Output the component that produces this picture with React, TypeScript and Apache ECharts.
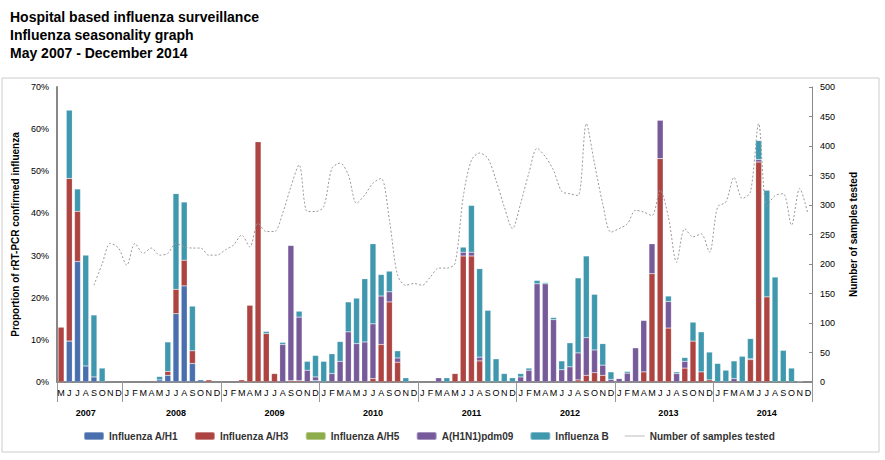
import { useRef, useEffect } from "react";
import * as echarts from "echarts";

const YEARS = [2007, 2008, 2009, 2010, 2011, 2012, 2013, 2014];
const LETTERS = ["J", "F", "M", "A", "M", "J", "J", "A", "S", "O", "N", "D"];

// May 2007 - Dec 2014, one entry per month (92)
const monthLabels: string[] = [];
const monthYear: number[] = [];
const monthIdx: number[] = [];
for (const y of YEARS) {
  for (let m = y === 2007 ? 4 : 0; m < 12; m++) {
    monthLabels.push(LETTERS[m]!);
    monthYear.push(y);
    monthIdx.push(m);
  }
}

const H1 = [
  0, 9.7, 28.6, 3.8, 1.2, 0, 0, 0,
  0, 0, 0, 0, 0.5, 1.6, 16.2, 22.8, 4.4, 0.5, 0, 0,
  0, 0, 0, 0, 0, 0, 0, 0, 0, 0, 0, 0.3,
  0, 0, 0, 0, 0, 0, 0, 0, 0, 0, 0, 0,
  0, 0, 0, 0, 0, 0, 0, 0, 0, 0, 0, 0,
  0, 0, 0, 0, 0, 0, 0, 0, 0, 0, 0, 0,
  0, 0, 0, 0, 0, 0, 0, 0, 0, 0, 0, 0,
  0, 0, 0, 0, 0, 0, 0, 0, 0, 0, 0, 0,
];
const H3 = [
  13, 38.6, 11.9, 0, 0, 0, 0, 0,
  0, 0, 0, 0, 0, 0.9, 5.8, 6.1, 3.0, 0, 0.5, 0,
  0, 0, 0.5, 18.2, 57, 11.5, 2, 0, 0.3, 0.3, 0, 0,
  0, 0, 0, 0, 0, 0, 0.8, 8.9, 19, 4.7, 0, 0,
  0, 0, 0, 0, 2, 29.9, 29.9, 5, 0, 0, 0, 0,
  0, 0, 0, 0, 0, 0, 0, 0.5, 1.6, 2.2, 1.6, 0,
  0, 0, 0, 2.4, 25.7, 53, 12.8, 0, 3.3, 9.7, 2.4, 0.5,
  0, 0, 0, 0, 5.3, 52.2, 20.2, 0, 0, 0, 0, 0,
];
const H5 = new Array(92).fill(0);
const PDM = [
  0, 0, 0, 0, 0, 0, 0, 0,
  0, 0, 0, 0, 0, 0, 0, 0, 0, 0, 0, 0,
  0, 0, 0, 0, 0, 0, 0, 8.9, 32.1, 15.1, 2.8, 0.9,
  0, 2, 4.9, 11.9, 9.1, 9.5, 13.0, 11.5, 2.4, 1.0, 0, 0,
  0, 0, 1, 0, 0, 0.9, 0.9, 0.9, 0, 0, 0, 0,
  1.2, 2.8, 23.3, 23.3, 14.8, 2.9, 3.6, 6.4, 8.9, 5.4, 2.4, 0.6,
  0.8, 2.1, 8.1, 12.2, 7.1, 9.1, 6.3, 2, 1.6, 0, 0, 0,
  0, 0, 0.8, 0, 0.2, 0.6, 0, 0, 0, 0, 0, 0,
];
const FLU_B = [
  0, 16.2, 5.3, 26.3, 14.7, 3.3, 0, 0,
  0, 0, 0, 0, 0.8, 7.0, 22.7, 13.8, 10.6, 0, 0, 0,
  0, 0, 0, 0, 0, 0.5, 0, 0.5, 0, 1.4, 2.1, 5.1,
  4.9, 4.7, 4.7, 7.1, 10.8, 15, 19, 5.1, 4.9, 1.7, 1, 0,
  0, 0, 0, 1, 0, 1.2, 11.1, 21, 17, 5.5, 2, 1,
  0.8, 0.5, 0.8, 0.3, 0.5, 2.1, 5.7, 17.8, 19.4, 13.2, 5.1, 1.8,
  0, 0.4, 0, 0, 0, 0, 1.3, 0.4, 0.9, 4.5, 9.5, 6.6,
  4.4, 2.8, 4.2, 6.1, 4.8, 4.5, 25.3, 24.9, 7.5, 3.3, 0.2, 0,
];
const SAMPLES: (number | null)[] = [
  null, null, null, null, 164, 200, 235, 227,
  198, 235, 218, 227, 215, 218, 235, 229, 227, 227, 215, 215,
  224, 232, 249, 229, 269, 255, 255, 286, 331, 368, 289, 289,
  297, 362, 371, 351, 303, 317, 337, 345, 275, 181, 164, 167,
  164, 178, 193, 193, 201, 314, 376, 388, 379, 342, 297, 260,
  303, 354, 396, 382, 359, 323, 319, 316, 438, 370, 302, 254,
  260, 268, 291, 288, 282, 325, 280, 203, 260, 246, 251, 220,
  297, 305, 347, 311, 322, 438, 299, 316, 319, 266, 328, 285,
];

const COLORS = ["#4a6fae", "#ad4441", "#8cad4a", "#765a9a", "#3f98ae"];

export default function App() {
  const ref = useRef<HTMLDivElement>(null);

  useEffect(() => {
    document.body.style.margin = "0";
    if (!ref.current) return;
    const chart = echarts.init(ref.current, null, { renderer: "svg" });

    const bar = (name: string, data: number[], i: number) => ({
      name,
      type: "bar" as const,
      stack: "flu",
      data: data.map((v) => (v > 0 ? v : null)),
      barWidth: 6,
      itemStyle: { color: COLORS[i], borderColor: "rgba(255,255,255,0.35)", borderWidth: 0.5 },
    });

    const yearMid = (i: number) => {
      const y = monthYear[i]!;
      return y === 2007 ? monthIdx[i] === 7 : monthIdx[i] === 6;
    };

    chart.setOption({
      animation: false,
      textStyle: { fontFamily: "Arial, 'Liberation Sans', sans-serif" },
      title: {
        text: "Hospital based influenza surveillance\nInfluenza seasonality graph\nMay 2007 - December 2014",
        left: 5,
        top: 3,
        textStyle: { fontSize: 14, fontWeight: "bold", color: "#000", lineHeight: 18 },
      },
      graphic: [
        { type: "rect", shape: { x: 2, y: 78, width: 877, height: 374 }, style: { fill: "none", stroke: "#ccc", lineWidth: 1 } },
      ],
      grid: { left: 57, right: 73, top: 87, bottom: 78 },
      legend: {
        bottom: 14,
        left: 78,
        itemGap: 16,
        itemWidth: 20,
        itemHeight: 8,
        textStyle: { fontSize: 10, fontWeight: "bold", color: "#333" },
        data: [
          { name: "Influenza A/H1" },
          { name: "Influenza A/H3" },
          { name: "Influenza A/H5" },
          { name: "A(H1N1)pdm09" },
          { name: "Influenza B" },
          { name: "Number of samples tested", icon: "path://M0,4 L30,4 L30,5 L0,5 Z" },
        ],
      },
      xAxis: [
        {
          type: "category",
          data: monthLabels,
          axisLine: { lineStyle: { color: "#888", width: 2 } },
          axisTick: { show: false },
          axisLabel: { interval: 0, fontSize: 9, color: "#000", margin: 6 },
        },
        {
          type: "category",
          data: monthLabels,
          position: "bottom",
          offset: 0,
          axisLine: { show: false },
          axisTick: {
            show: true,
            length: 20,
            lineStyle: { color: "#999" },
            interval: (i: number) => i === 0 || monthIdx[i] === 0,
          },
          axisLabel: {
            interval: 0,
            margin: 26,
            fontSize: 9,
            fontWeight: "bold",
            color: "#000",
            formatter: (_v: string, i: number) => (yearMid(i) ? String(monthYear[i]) : ""),
          },
        },
      ],
      yAxis: [
        {
          type: "value",
          min: 0,
          max: 70,
          interval: 10,
          name: "Proportion of rRT-PCR confirmed influenza",
          nameLocation: "middle",
          nameGap: 32,
          nameTextStyle: { fontSize: 10, fontWeight: "bold", color: "#000" },
          axisLine: { show: true, lineStyle: { color: "#888", width: 2 } },
          axisTick: { show: false },
          splitLine: { show: false },
          axisLabel: { formatter: "{value}%", fontSize: 9, color: "#000" },
        },
        {
          type: "value",
          min: 0,
          max: 500,
          interval: 50,
          name: "Number of samples tested",
          nameLocation: "middle",
          nameGap: 36,
          nameRotate: 90,
          nameTextStyle: { fontSize: 10, fontWeight: "bold", color: "#000" },
          axisLine: { show: true, lineStyle: { color: "#888" } },
          axisTick: { show: true, inside: true, length: 3 },
          splitLine: { show: false },
          axisLabel: { fontSize: 9, color: "#000" },
        },
      ],
      series: [
        bar("Influenza A/H1", H1, 0),
        bar("Influenza A/H3", H3, 1),
        bar("Influenza A/H5", H5, 2),
        bar("A(H1N1)pdm09", PDM, 3),
        bar("Influenza B", FLU_B, 4),
        {
          name: "Number of samples tested",
          type: "line",
          yAxisIndex: 1,
          data: SAMPLES,
          smooth: 0.3,
          symbol: "none",
          itemStyle: { color: "#999" },
          lineStyle: { color: "#999", width: 1, type: [2, 2] },
          z: 5,
        },
      ],
    });

    return () => chart.dispose();
  }, []);

  return <div ref={ref} style={{ width: 885, height: 460 }} />;
}
